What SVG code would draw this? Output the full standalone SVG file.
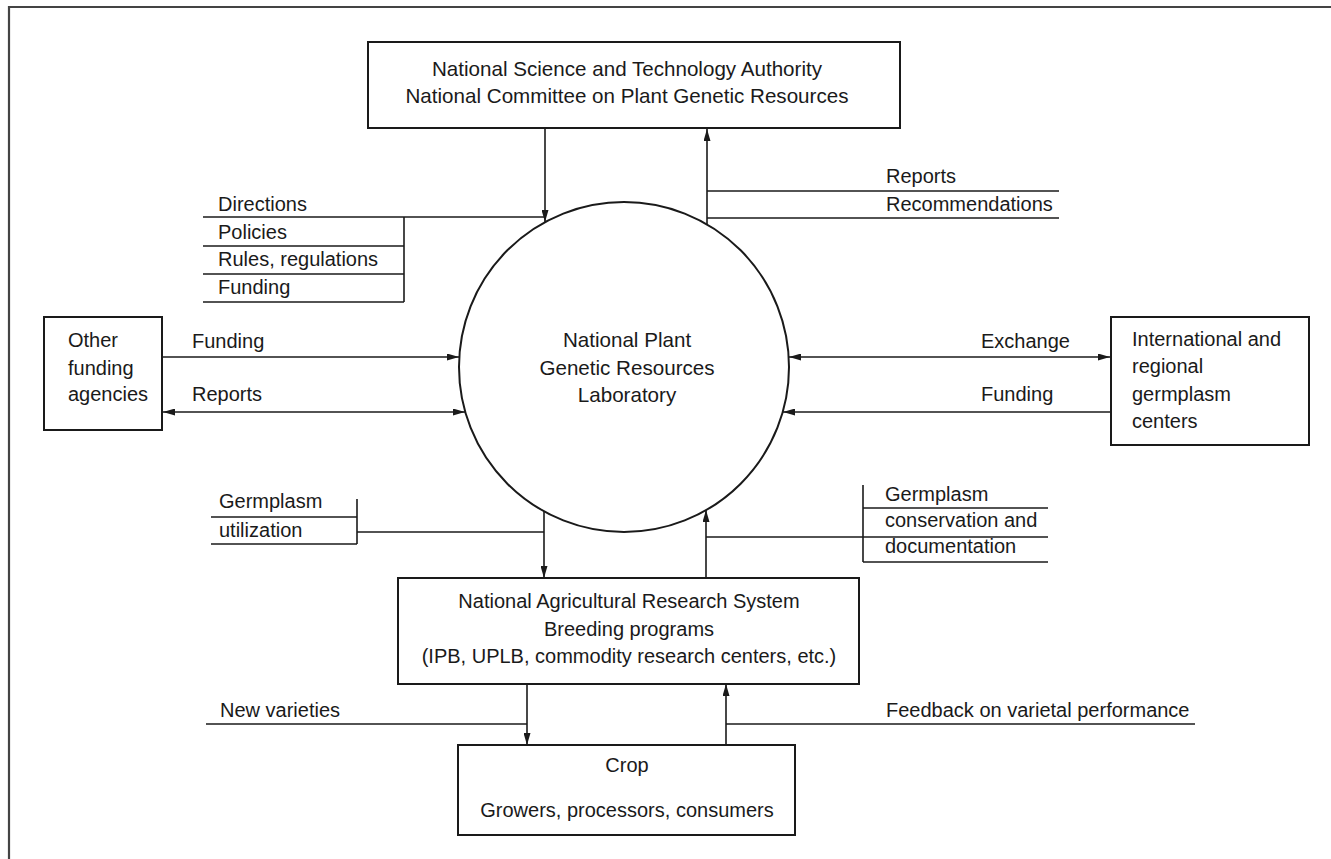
<svg xmlns="http://www.w3.org/2000/svg" width="1331" height="859" viewBox="0 0 1331 859">
<style>
text{font-family:"Liberation Sans",Arial,sans-serif;font-size:20px;fill:#1a1a1a}
.c{text-anchor:middle}
.big{font-size:20.6px}
.box{fill:none;stroke:#1a1a1a;stroke-width:2}
.ln{fill:none;stroke:#1a1a1a;stroke-width:1.6}
.ar{fill:none;stroke:#1a1a1a;stroke-width:1.6;marker-end:url(#ah)}
.dar{fill:none;stroke:#1a1a1a;stroke-width:1.6;marker-end:url(#ah);marker-start:url(#ahs)}
</style>
<defs>
<marker id="ah" viewBox="0 0 12 7" refX="12" refY="3.5" markerWidth="12" markerHeight="7" markerUnits="userSpaceOnUse" orient="auto">
<path d="M0,0 L12,3.5 L0,7 Z" fill="#1a1a1a"/>
</marker>
<marker id="ahs" viewBox="0 0 12 7" refX="0" refY="3.5" markerWidth="12" markerHeight="7" markerUnits="userSpaceOnUse" orient="auto">
<path d="M12,0 L0,3.5 L12,7 Z" fill="#1a1a1a"/>
</marker>
</defs>
<rect width="1331" height="859" fill="#fff"/>
<path d="M9,859 V7 H1331" fill="none" stroke="#444" stroke-width="2.2"/>

<g id="connectors">
<line class="ar" x1="545" y1="128" x2="545" y2="222"/>
<line class="ar" x1="707" y1="224" x2="707" y2="129"/>
<line class="ln" x1="203" y1="217" x2="545" y2="217"/>
<line class="ln" x1="404" y1="217" x2="404" y2="302"/>
<line class="ln" x1="203" y1="246" x2="404" y2="246"/>
<line class="ln" x1="203" y1="274" x2="404" y2="274"/>
<line class="ln" x1="203" y1="302" x2="404" y2="302"/>
<line class="ln" x1="707" y1="191" x2="1059" y2="191"/>
<line class="ln" x1="707" y1="218" x2="1059" y2="218"/>
<line class="ar" x1="162" y1="357" x2="459" y2="357"/>
<line class="dar" x1="163" y1="412" x2="465" y2="412"/>
<line class="dar" x1="789" y1="357" x2="1110" y2="357"/>
<line class="ar" x1="1111" y1="412" x2="783" y2="412"/>
<line class="ar" x1="544" y1="511" x2="544" y2="578"/>
<line class="ar" x1="706" y1="578" x2="706" y2="510"/>
<line class="ln" x1="211" y1="517" x2="357" y2="517"/>
<line class="ln" x1="211" y1="544" x2="357" y2="544"/>
<line class="ln" x1="357" y1="499" x2="357" y2="544"/>
<line class="ln" x1="357" y1="532" x2="544" y2="532"/>
<line class="ln" x1="863" y1="485" x2="863" y2="562"/>
<line class="ln" x1="863" y1="508" x2="1048" y2="508"/>
<line class="ln" x1="863" y1="537" x2="1048" y2="537"/>
<line class="ln" x1="863" y1="562" x2="1048" y2="562"/>
<line class="ln" x1="706" y1="537" x2="863" y2="537"/>
<line class="ar" x1="527" y1="684" x2="527" y2="745"/>
<line class="ar" x1="726" y1="745" x2="726" y2="684"/>
<line class="ln" x1="206" y1="724" x2="527" y2="724"/>
<line class="ln" x1="726" y1="724" x2="1195" y2="724"/>
</g>

<g id="labels">
<text x="218" y="211">Directions</text>
<text x="218" y="239">Policies</text>
<text x="218" y="266">Rules, regulations</text>
<text x="218" y="294">Funding</text>
<text x="886" y="183">Reports</text>
<text x="886" y="211">Recommendations</text>
<text x="192" y="348">Funding</text>
<text x="192" y="401">Reports</text>
<text x="981" y="348">Exchange</text>
<text x="981" y="401">Funding</text>
<text x="219" y="508">Germplasm</text>
<text x="219" y="537">utilization</text>
<text x="885" y="501">Germplasm</text>
<text x="885" y="527">conservation and</text>
<text x="885" y="553">documentation</text>
<text x="220" y="717">New varieties</text>
<text x="886" y="717">Feedback on varietal performance</text>
</g>

<g id="nsta">
<rect class="box" x="368" y="42" width="532" height="86"/>
<text class="c big" x="627" y="76">National Science and Technology Authority</text>
<text class="c big" x="627" y="103">National Committee on Plant Genetic Resources</text>
</g>

<g id="lab">
<circle class="box" cx="624" cy="367" r="165" stroke-width="1.6"/>
<text class="c big" x="627" y="347">National Plant</text>
<text class="c big" x="627" y="375">Genetic Resources</text>
<text class="c big" x="627" y="402">Laboratory</text>
</g>

<g id="other">
<rect class="box" x="44" y="317" width="118" height="113"/>
<text x="68" y="347">Other</text>
<text x="68" y="375">funding</text>
<text x="68" y="401">agencies</text>
</g>

<g id="intl">
<rect class="box" x="1111" y="317" width="198" height="128"/>
<text x="1132" y="346">International and</text>
<text x="1132" y="373">regional</text>
<text x="1132" y="401">germplasm</text>
<text x="1132" y="428">centers</text>
</g>

<g id="nars">
<rect class="box" x="398" y="578" width="461" height="106"/>
<text class="c" x="629" y="608">National Agricultural Research System</text>
<text class="c" x="629" y="636">Breeding programs</text>
<text class="c" x="629" y="663">(IPB, UPLB, commodity research centers, etc.)</text>
</g>

<g id="crop">
<rect class="box" x="458" y="745" width="337" height="90"/>
<text class="c" x="627" y="772">Crop</text>
<text class="c" x="627" y="817">Growers, processors, consumers</text>
</g>
</svg>
